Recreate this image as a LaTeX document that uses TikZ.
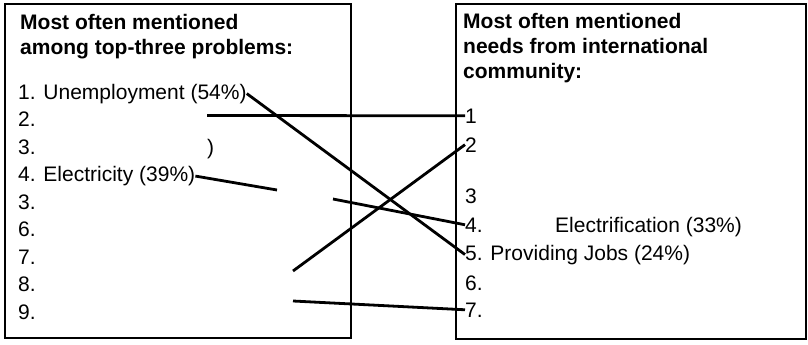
\documentclass[tikz,border=0pt]{standalone}
\usepackage{fontspec}
\setmainfont{Liberation Sans}
\usetikzlibrary{positioning}

\begin{document}
\begin{tikzpicture}[
  x=1pt, y=-1pt,
  heading/.style={anchor=base west, inner sep=0pt, align=left, font=\fontsize{21}{25}\selectfont\bfseries},
  entry/.style={anchor=base west, inner sep=0pt, font=\fontsize{21}{25}\selectfont},
  panel/.style={draw, line width=1.5pt},
  link/.style={line width=2.8pt},
]
\useasboundingbox (0,0) rectangle (808,345);

% left panel: problems
\draw[panel] (5,4) rectangle (351,338);
\node[heading] (ptitle) at (20,54.5) {Most often mentioned\\among top-three problems:};
\node[entry] (p1) at (18,99) {1. Unemployment (54\%)};
\node[entry] (p2) at (18,126.5) {2.};
\node[entry] (p3) at (18,154) {3.};
\node[entry] (p4) at (18,181.5) {4. Electricity (39\%)};
\node[entry] (p5) at (18,209) {3.};
\node[entry] (p6) at (18,236.5) {6.};
\node[entry] (p7) at (18,264) {7.};
\node[entry] (p8) at (18,291.5) {8.};
\node[entry] (p9) at (18,319) {9.};
\node[entry] (paren) at (207,154) {)};

% right panel: needs
\draw[panel] (456,4) rectangle (806,339);
\node[heading] (ntitle) at (463,78) {Most often mentioned\\needs from international\\community:};
\node[entry] (n1) at (465,123) {1};
\node[entry] (n2) at (465,152) {2};
\node[entry] (n3) at (465,203) {3};
\node[entry] (n4) at (465,232) {4.};
\node[entry] (n5) at (465,260) {5. Providing Jobs (24\%)};
\node[entry] (n6) at (465,290) {6.};
\node[entry] (n7) at (465,317) {7.};
\node[entry] (elec) at (555,232) {Electrification (33\%)};

% loose line ends
\coordinate (b0) at (207,115.5);
\coordinate (c1) at (277,190);
\coordinate (d0) at (333,199);
\coordinate (e0) at (293,271);
\coordinate (f0) at (293,301);

% links
\draw[link] (p1.east) -- (n5.west);
\draw[link] (b0) -- (n1.west);
\draw[link] (p4.east) -- (c1);
\draw[link] (d0) -- (n4.west);
\draw[link] (e0) -- (n2.west);
\draw[link] (f0) -- (n7.west);
\end{tikzpicture}
\end{document}
